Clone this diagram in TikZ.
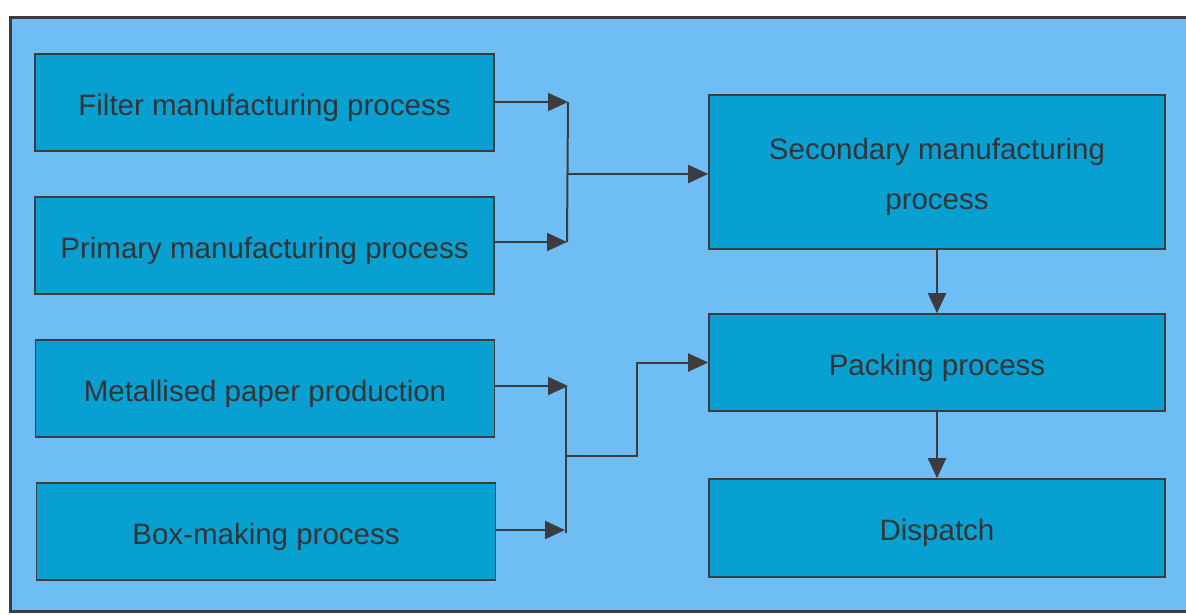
\documentclass[tikz,border=0pt]{standalone}
\usepackage{fontspec}
\setmainfont{Liberation Sans}
\usetikzlibrary{arrows.meta}
\definecolor{panel}{RGB}{110,190,245}
\definecolor{boxfill}{RGB}{8,160,208}
\definecolor{ink}{RGB}{60,60,62}
\definecolor{txt}{RGB}{50,52,56}
\tikzset{
  x=1pt, y=-1pt,
  procbox/.style={draw=ink, line width=1.6pt, fill=boxfill, inner sep=0pt},
  boxtext/.style={text=txt, font=\fontsize{29.5}{50}\selectfont,
    align=center, inner sep=0pt, yshift=-5pt},
  flow/.style={draw=ink, line width=2pt,
    -{Triangle[length=20pt,width=18pt]}},
  link/.style={draw=ink, line width=2pt}
}
\begin{document}
\begin{tikzpicture}
  % page extent and the outer panel
  \useasboundingbox (0,0) rectangle (1186,614);
  \fill[white] (0,0) rectangle (1186,614);
  \draw[ink, line width=3pt, fill=panel] (10,17) rectangle (1200,611);

  % input processes
  \node[procbox, minimum width=459pt, minimum height=97pt] (filter) at (264.5,102.5) {};
  \node[procbox, minimum width=459pt, minimum height=97pt] (primary) at (264.5,245.5) {};
  \node[procbox, minimum width=459pt, minimum height=97pt] (paper) at (265,388.5) {};
  \node[procbox, minimum width=459pt, minimum height=97pt] (boxmk) at (266,531.5) {};

  % downstream processes
  \node[procbox, minimum width=456pt, minimum height=154pt] (secondary) at (937,172) {};
  \node[procbox, minimum width=456pt, minimum height=97pt] (packing) at (937,362.5) {};
  \node[procbox, minimum width=456pt, minimum height=98pt] (dispatch) at (937,528) {};

  % box captions
  \node[boxtext] (filterT) at (filter.center) {Filter manufacturing process};
  \node[boxtext] (primaryT) at (primary.center) {Primary manufacturing process};
  \node[boxtext] (paperT) at (paper.center) {Metallised paper production};
  \node[boxtext] (boxmkT) at (boxmk.center) {Box-making process};
  \node[boxtext] (secondaryT) at (secondary.center) {Secondary manufacturing\\process};
  \node[boxtext] (packingT) at (packing.center) {Packing process};
  \node[boxtext] (dispatchT) at (dispatch.center) {Dispatch};

  % junction points
  \coordinate (j1a) at (568,102);
  \coordinate (j1b) at (567,242);
  \coordinate (j1m) at (567,174);
  \coordinate (j2a) at (568,386);
  \coordinate (j2b) at (565,530);
  \coordinate (j2top) at (566,386);
  \coordinate (j2bot) at (566,533);
  \coordinate (j2m) at (566,456);
  \coordinate (j2t) at (637,456);

  % upper merge
  \path[flow] (filter.east |- j1a) -- (j1a);
  \path[flow] (primary.east |- j1b) -- (j1b);
  \path[link] (j1a) -- (j1b);
  \path[flow] (j1m) -- (secondary.west |- j1m);

  % lower merge
  \path[flow] (paper.east |- j2a) -- (j2a);
  \path[flow] (boxmk.east |- j2b) -- (j2b);
  \path[link] (j2top) -- (j2bot);
  \path[flow] (j2m) -- (j2t) |- (packing.west);

  % main line
  \path[flow] (secondary.south) -- (packing.north);
  \path[flow] (packing.south) -- (dispatch.north);
\end{tikzpicture}
\end{document}
